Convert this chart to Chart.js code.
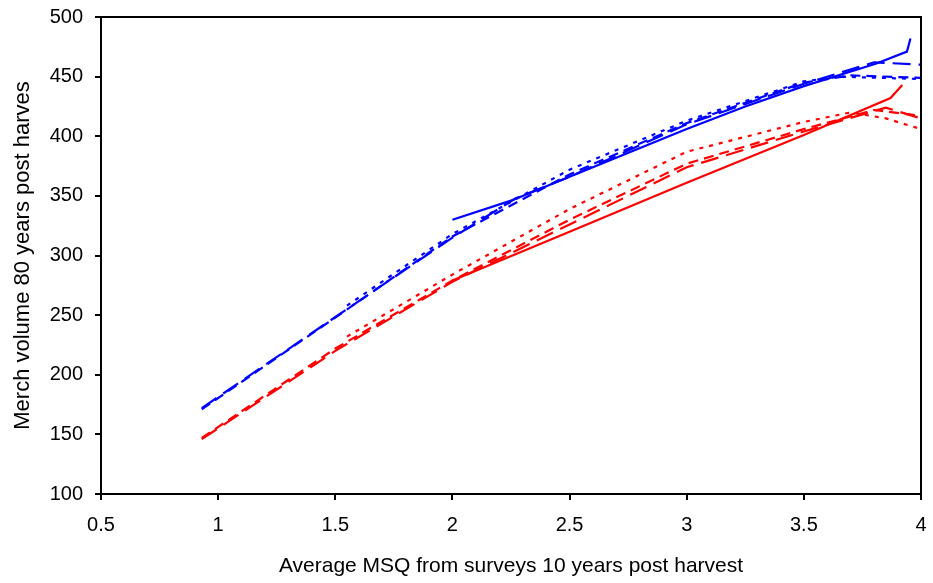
<!DOCTYPE html>
<html>
<head>
<meta charset="utf-8">
<script src="https://cdn.jsdelivr.net/npm/chart.js@4.4.1/dist/chart.umd.min.js"></script>
<style>
 html, body { margin: 0; padding: 0; background: #fff; }
 #wrap { width: 933px; height: 583px; }
</style>
</head>
<body>
<div id="wrap"><canvas id="msqChart" width="933" height="583"></canvas></div>
<script>
// x ticks / y ticks
var xTicks = [0.5, 1, 1.5, 2, 2.5, 3, 3.5, 4];
var yTicks = [100, 150, 200, 250, 300, 350, 400, 450, 500];

// blue series
var blueSolidX = [2.0, 2.25, 2.5, 3.0, 3.25, 3.5, 3.81, 3.94, 3.955];
var blueSolidY = [330, 346, 366, 406, 425, 442, 461, 471, 482];
var blueLongX = [0.93, 1.43, 2.0, 2.27, 2.5, 3.0, 3.5, 3.8, 4.0];
var blueLongY = [172, 239, 315, 348, 366, 410, 444, 462, 460];
var blueDashX = [0.93, 1.5, 2.0, 2.5, 3.0, 3.5, 3.7, 4.0];
var blueDashY = [171, 248, 316, 368, 411, 445, 451, 449];
var blueDotX = [1.55, 2.0, 2.5, 3.0, 3.5, 3.65, 4.0];
var blueDotY = [258, 318, 372, 413, 446, 450, 448];

// red series
var redSolidX = [2.0, 2.5, 3.0, 3.5, 3.87, 3.92];
var redSolidY = [279, 320, 361, 401, 432, 443];
var redLongX = [0.93, 1.5, 2.0, 2.5, 3.0, 3.5, 3.85, 4.0];
var redLongY = [146, 220, 278, 326, 374, 404, 424, 415];
var redDashX = [0.93, 1.5, 2.0, 2.5, 3.0, 3.5, 3.8, 4.0];
var redDashY = [147, 222, 279, 330, 377, 406, 422, 417];
var redDotX = [1.55, 2.0, 2.5, 3.0, 3.5, 3.7, 3.85, 4.0];
var redDotY = [232, 284, 339, 387, 412, 420, 415, 406];

function pts(xs, ys) {
 return xs.map(function (x, i) {
  return { x: x, y: ys[i] };
 });
}

function series(xs, ys, color, dash) {
 return {
  data: pts(xs, ys),
  borderColor: color,
  backgroundColor: color,
  borderWidth: 2.2,
  borderDash: dash,
  pointRadius: 0,
  showLine: true,
  fill: false,
  tension: 0,
 };
}

var frame = {
 id: "frame",
 afterDatasetsDraw: function (chart) {
  var a = chart.chartArea;
  var ctx = chart.ctx;
  ctx.save();
  ctx.strokeStyle = "#000";
  ctx.lineWidth = 2;
  ctx.strokeRect(a.left, a.top, a.right - a.left, a.bottom - a.top);
  ctx.restore();
 },
};

var font = "'Liberation Sans', Arial, sans-serif";

function noPad(axis) {
 axis.paddingLeft = 0;
 axis.paddingRight = 0;
 axis.paddingTop = 0;
 axis.paddingBottom = 0;
}

new Chart(document.getElementById("msqChart"), {
 type: "scatter",
 data: {
  datasets: [
   series(redSolidX, redSolidY, "#ff0000", []),
   series(redLongX, redLongY, "#ff0000", [18, 8]),
   series(redDashX, redDashY, "#ff0000", [10, 6]),
   series(redDotX, redDotY, "#ff0000", [4, 6]),
   series(blueSolidX, blueSolidY, "#0000ff", []),
   series(blueLongX, blueLongY, "#0000ff", [18, 8]),
   series(blueDashX, blueDashY, "#0000ff", [10, 6]),
   series(blueDotX, blueDotY, "#0000ff", [4, 6]),
  ],
 },
 options: {
  responsive: false,
  animation: false,
  layout: { padding: { top: 17, right: 12, left: 0, bottom: 0 } },
  plugins: { legend: { display: false }, tooltip: { enabled: false } },
  scales: {
   x: {
    type: "linear",
    min: 0.5,
    max: 4,
    afterBuildTicks: function (axis) {
     axis.ticks = xTicks.map(function (v) { return { value: v }; });
    },
    afterFit: function (axis) { axis.height = 89; noPad(axis); },
    grid: { drawOnChartArea: false, drawTicks: true, tickLength: 6, color: "#000", lineWidth: 2 },
    border: { display: true, color: "#000", width: 2 },
    ticks: {
     color: "#000",
     font: { family: font, size: 20 },
     padding: 13,
     maxRotation: 0,
     callback: function (v) { return String(v); },
    },
    title: { display: true, text: "Average MSQ from surveys 10 years post harvest", color: "#000", font: { family: font, size: 21 }, padding: { top: 8 } },
   },
   y: {
    min: 100,
    max: 500,
    afterBuildTicks: function (axis) {
     axis.ticks = yTicks.map(function (v) { return { value: v }; });
    },
    afterFit: function (axis) { axis.width = 101; noPad(axis); },
    grid: { drawOnChartArea: false, drawTicks: true, tickLength: 6, color: "#000", lineWidth: 2 },
    border: { display: true, color: "#000", width: 2 },
    ticks: { color: "#000", font: { family: font, size: 20 }, padding: 12 },
    title: { display: true, text: "Merch volume 80 years post harves", color: "#000", font: { family: font, size: 22 }, padding: { top: 10, bottom: 4 } },
   },
  },
 },
 plugins: [frame],
});
</script>
</body>
</html>
